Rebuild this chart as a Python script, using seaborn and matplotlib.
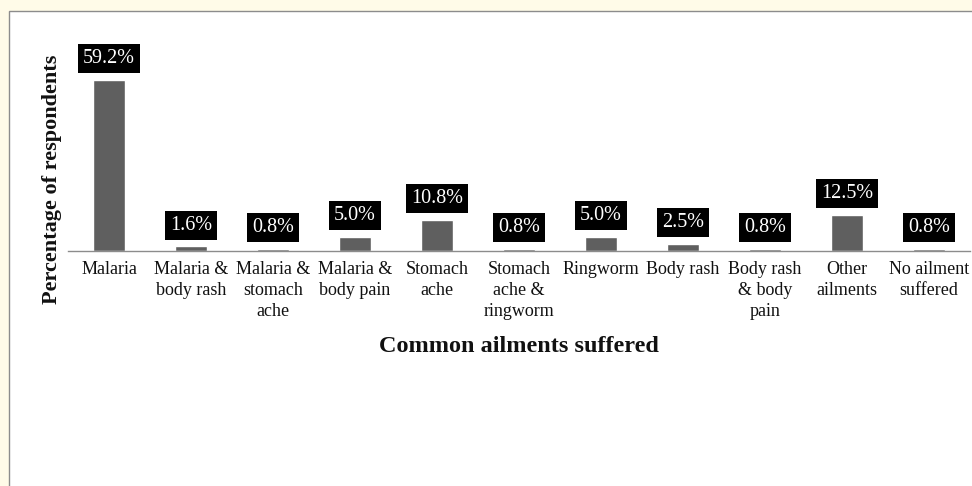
import matplotlib
matplotlib.use("Agg")
import matplotlib.pyplot as plt
from matplotlib.patches import Rectangle
import seaborn as sns
import pandas as pd
import numpy as np

categories = ["Malaria", "Malaria &\nbody rash", "Malaria &\nstomach\nache", "Malaria &\nbody pain",
              "Stomach\nache", "Stomach\nache &\nringworm", "Ringworm", "Body rash",
              "Body rash\n& body\npain", "Other\nailments", "No ailment\nsuffered"]
values = [59.2, 1.6, 0.8, 5.0, 10.8, 0.8, 5.0, 2.5, 0.8, 12.5, 0.8]

sns.set_theme(style="white")
plt.rcParams['font.family'] = ['Liberation Serif', 'DejaVu Serif']

W, H = 972, 486
fig = plt.figure(figsize=(W / 100, H / 100), dpi=100)
fig.patch.set_facecolor("#fffbe8")
panel = Rectangle((9 / W, -0.1), 1.2, 1 - 11 / H + 0.1, transform=fig.transFigure,
                  facecolor="white", edgecolor="#8c8c8c", lw=1.0, zorder=-1)
fig.patches.append(panel)

ax_h = 173.3
ax = fig.add_axes([68 / W, (H - 251) / H, 902 / W, ax_h / H])
ax.set_facecolor("none")

df = pd.DataFrame({"category": categories, "value": values})
sns.barplot(data=df, x="category", y="value", color="#5f5f5f", saturation=1,
            width=0.39, ax=ax)
ax.set_ylim(0, 60)
ax.set_xlim(-0.5, len(categories) - 0.5)

for i, v in enumerate(values):
    ax.annotate(f"{v:.1f}%", xy=(i, v), xytext=(0, 8.5), textcoords="offset points",
                ha="center", va="bottom", color="white", fontsize=14.5,
                bbox=dict(boxstyle="square,pad=0.25", fc="black", ec="none"),
                annotation_clip=False)

for s in ["left", "top", "right"]:
    ax.spines[s].set_visible(False)
ax.spines["bottom"].set_color("#8c8c8c")
ax.spines["bottom"].set_linewidth(1.0)
ax.set_yticks([])
ax.tick_params(axis="x", which="major", length=0, pad=7, labelsize=13, labelcolor="#111111")
ax.set_xticks(np.arange(-0.5, len(categories), 1.0), minor=True)
ax.tick_params(axis="x", which="minor", length=4, color="#8c8c8c", width=1)
for lbl in ax.get_xticklabels():
    lbl.set_linespacing(1.3)

ax.set_xlabel("Common ailments suffered", fontsize=17.5, fontweight="bold", color="#111111")
ax.xaxis.label.set_va("center")
ax.xaxis.set_label_coords(0.5, -(346 - 251) / ax_h)
ax.set_ylabel("Percentage of respondents", fontsize=16, fontweight="bold", color="#111111")
ax.yaxis.label.set_va("center")
ax.yaxis.set_label_coords((52 - 68) / 902, (251 - 179) / ax_h)

fig.savefig("out.png", dpi=100)
